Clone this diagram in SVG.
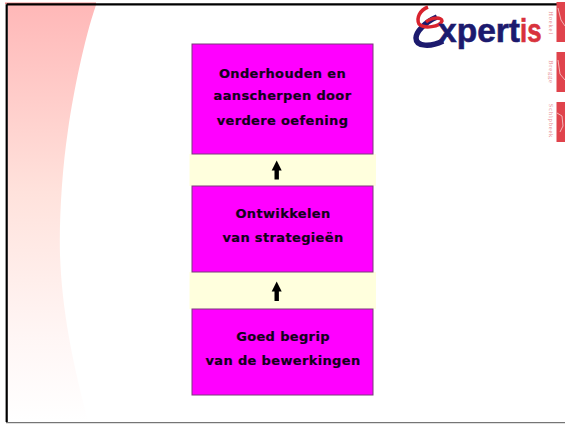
<svg xmlns="http://www.w3.org/2000/svg" width="565" height="424" viewBox="0 0 565 424">
<style>
.box{fill:#ff00ff;stroke:#7a3a7a;stroke-width:1}
.band{fill:#ffffdd}
.t{font-family:"DejaVu Sans",sans-serif;font-weight:700;font-size:13px;fill:#12001a;stroke:#12001a;stroke-width:.2;text-anchor:middle;letter-spacing:.35px}
.side{font-family:"Liberation Serif",serif;font-size:6.5px;fill:#e88a92;text-anchor:middle;letter-spacing:.8px}
.tab{fill:#e0434c}
.crack{fill:none;stroke:#f6d0d0;stroke-width:.8}
.link{fill:none;stroke:#000;stroke-width:4.4;marker-end:url(#up)}
.logo{font-family:"Liberation Sans",sans-serif;font-size:33px;font-weight:700;stroke-width:.6}
</style>
<defs>
<linearGradient id="fade" x1="0" y1="0" x2="0" y2="1">
<stop offset="0" stop-color="#ffb8b8"/><stop offset=".45" stop-color="#ffe2dc"/><stop offset=".8" stop-color="#fff6f5"/><stop offset="1" stop-color="#ffffff"/>
</linearGradient>
<marker id="up" markerUnits="userSpaceOnUse" markerWidth="11" markerHeight="11" refX="1" refY="5.500" orient="auto" viewBox="0 0 11 11"><path d="M0 0.500L10 5.500L0 10.500Z"/></marker>
</defs>
<rect width="565" height="424" fill="#fff"/>
<path id="swoosh" d="M8 5H96C84 40 74 90 68 130C62 170 59 220 60 255C62 310 72 360 88 421H8Z" fill="url(#fade)"/>
<path d="M5 2.500H96V4H5Z" fill="#f08a8a"/>
<path d="M6.700 4.300H565M6.700 4.300V422" fill="none" stroke="#000" stroke-width="2.200"/>
<path d="M6 422.700H565" fill="none" stroke="#555" stroke-width="1"/>
<rect class="band" x="189.500" y="154" width="186.500" height="32"/>
<rect class="band" x="189.500" y="272" width="186.500" height="37"/>
<g id="connectors">
<path class="link" d="M276.700 179.500V169.500"/>
<path class="link" d="M276.700 301V290.500"/>
</g>
<g id="node-top">
<rect class="box" x="192" y="44" width="181" height="110"/>
<text class="t" x="282.500" y="78">Onderhouden en</text>
<text class="t" x="282.500" y="100">aanscherpen door</text>
<text class="t" x="282.500" y="125">verdere oefening</text>
</g>
<g id="node-middle">
<rect class="box" x="192" y="186" width="181" height="86"/>
<text class="t" x="283" y="218">Ontwikkelen</text>
<text class="t" x="283" y="242">van strategieën</text>
</g>
<g id="node-bottom">
<rect class="box" x="192" y="309" width="181" height="86"/>
<text class="t" x="283" y="341">Goed begrip</text>
<text class="t" x="283" y="365">van de bewerkingen</text>
</g>
<g id="logo">
<path d="M437 17C425 22 416 32 416 38C416 47 431 47 443 41" fill="none" stroke="#1c1a6e" stroke-width="5.500"/>
<path d="M428 7C420 10 416 18 419 24C424 29 440 27 442 21C442 17 432 17 426 22" fill="none" stroke="#d8232e" stroke-width="3.500"/>
<text class="logo" x="438" y="42" fill="#1c1a6e" stroke="#1c1a6e" textLength="82" lengthAdjust="spacingAndGlyphs">xpert</text>
<text class="logo" x="520" y="42" fill="#d8323c" stroke="#d8323c" textLength="21.500" lengthAdjust="spacingAndGlyphs">is</text>
</g>
<g id="sidebar">
<rect class="tab" x="556.500" y="2" width="8.500" height="40"/>
<rect class="tab" x="556.500" y="52" width="8.500" height="40"/>
<rect class="tab" x="556.500" y="102" width="8.500" height="40"/>
<path class="crack" d="M558 8L561 20L565 26"/>
<path class="crack" d="M558 60L560 74L565 80"/>
<path class="crack" d="M557 113L562 116L563 126L560 132"/>
<text class="side" transform="translate(549 23) rotate(90)">Hoekel</text>
<text class="side" transform="translate(549 72) rotate(90)">Bregge</text>
<text class="side" transform="translate(549 121) rotate(90)">Schipbeek</text>
</g>
</svg>
